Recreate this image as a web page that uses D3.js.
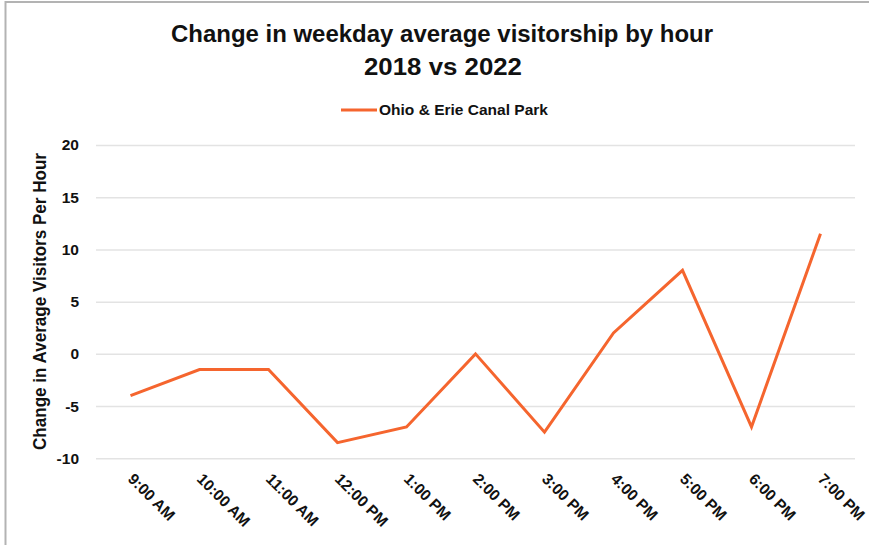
<!DOCTYPE html>
<html><head><meta charset="utf-8">
<script src="https://cdn.jsdelivr.net/npm/d3@7"></script>
<style>
html,body{margin:0;padding:0;background:#fff;}
svg{display:block;}
text{font-family:"Liberation Sans",Arial,sans-serif;fill:#111;}
</style></head>
<body><svg id="c" width="869" height="545"></svg>
<script>
const hours = ["9:00 AM","10:00 AM","11:00 AM","12:00 PM","1:00 PM","2:00 PM","3:00 PM","4:00 PM","5:00 PM","6:00 PM","7:00 PM"];
const changeValues = [-4, -1.5, -1.5, -8.5, -7, 0, -7.5, 2, 8, -7, 11.5];
const yTicks = [-10, -5, 0, 5, 10, 15, 20];
const seriesName = "Ohio & Erie Canal Park";
const titleLines = ["Change in weekday average visitorship by hour", "2018 vs 2022"];
const yTitle = "Change in Average Visitors Per Hour";

const svg = d3.select("#c");
const W = 869, H = 545;
const color = "#F5652E";

// frame
svg.append("line").attr("x1",5).attr("x2",W).attr("y1",2).attr("y2",2).attr("stroke","#b3b3b3").attr("stroke-width",2);
svg.append("line").attr("x1",5.5).attr("x2",5.5).attr("y1",1).attr("y2",H).attr("stroke","#b3b3b3").attr("stroke-width",2);

const x = d3.scalePoint().domain(hours).range([96,855]).padding(0.5);
const y = d3.scaleLinear().domain([-10,20]).range([458.3,145]);

// grid
const grid = svg.append("g").attr("transform","translate(96,0)")
  .call(d3.axisLeft(y).tickValues(yTicks).tickSize(-(855-96)).tickFormat(""));
grid.select(".domain").remove();
grid.selectAll(".tick line").attr("stroke","#e3e3e3").attr("stroke-width",1.5);

// y axis labels
const ya = svg.append("g").attr("transform","translate(79,0)")
  .call(d3.axisLeft(y).tickValues(yTicks).tickSize(0).tickPadding(0).tickFormat(d => String(d)));
ya.select(".domain").remove();
ya.selectAll("text").attr("font-size",15.5).attr("font-weight","bold").attr("fill","#111")
  .attr("font-family","Liberation Sans, Arial, sans-serif");

// x axis labels
const xa = svg.append("g").attr("transform","translate(0,458)")
  .call(d3.axisBottom(x).tickSize(0).tickPadding(0));
xa.select(".domain").remove();
xa.selectAll("text").attr("font-size",15.5).attr("font-weight","bold").attr("fill","#111")
  .attr("font-family","Liberation Sans, Arial, sans-serif")
  .attr("text-anchor","start").attr("dy",null).attr("y",0)
  .attr("transform","translate(-4,22) rotate(45)");

// line
svg.append("path").datum(changeValues)
  .attr("fill","none").attr("stroke",color).attr("stroke-width",3).attr("stroke-linejoin","miter")
  .attr("d", d3.line().x((d,i)=>x(hours[i])).y(d=>y(d)));

// title
svg.append("text").attr("x",442).attr("y",41.5).attr("text-anchor","middle")
  .attr("font-size",23.5).attr("font-weight","bold")
  .attr("textLength",542).attr("lengthAdjust","spacingAndGlyphs").text(titleLines[0]);
svg.append("text").attr("x",443).attr("y",74.5).attr("text-anchor","middle")
  .attr("font-size",23.5).attr("font-weight","bold")
  .attr("textLength",158).attr("lengthAdjust","spacingAndGlyphs").text(titleLines[1]);

// legend
svg.append("line").attr("x1",341).attr("x2",377).attr("y1",110).attr("y2",110).attr("stroke",color).attr("stroke-width",3);
svg.append("text").attr("x",379).attr("y",115).attr("font-size",14.5).attr("font-weight","bold")
  .attr("textLength",169).attr("lengthAdjust","spacingAndGlyphs").text(seriesName);

// y title
svg.append("text").attr("transform","translate(46,301.5) rotate(-90)").attr("text-anchor","middle")
  .attr("font-size",18).attr("font-weight","bold")
  .attr("textLength",297).attr("lengthAdjust","spacingAndGlyphs").text(yTitle);
</script></body></html>
